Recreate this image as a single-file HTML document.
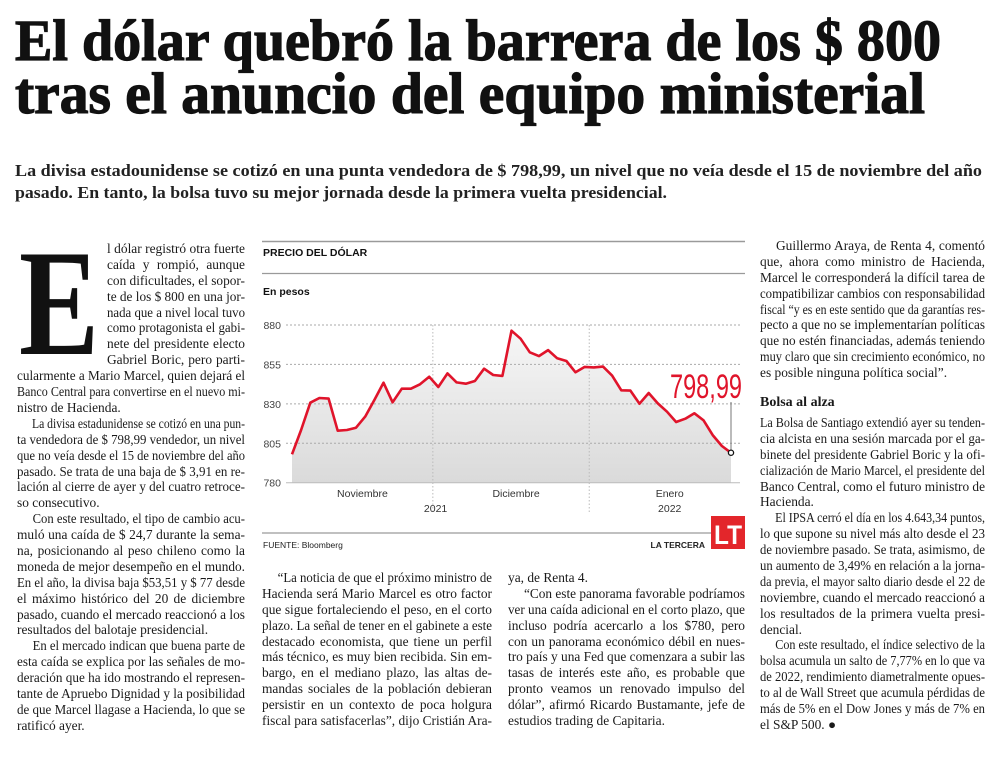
<!DOCTYPE html>
<html><head><meta charset="utf-8">
<style>
body{margin:0;background:#fff;width:1000px;height:757px;overflow:hidden;position:relative;font-family:"Liberation Serif",serif;color:#1a1a1a}
.col{position:absolute;font-size:13.4px;line-height:15.9px}
.ln{white-space:nowrap;text-align:justify;text-align-last:justify;height:15.9px}
.ln.l{text-align-last:left}
.ln.i{text-indent:8px}
.ln span{display:inline-block;transform-origin:left center}
</style></head><body>
<svg width="1000" height="210" style="position:absolute;left:0;top:0">
<text x="15" y="60" font-family="Liberation Serif" font-weight="bold" font-size="58" textLength="926" lengthAdjust="spacingAndGlyphs" fill="#111" stroke="#111" stroke-width="1.2">El dólar quebró la barrera de los $ 800</text>
<text x="15" y="113" font-family="Liberation Serif" font-weight="bold" font-size="58" textLength="910" lengthAdjust="spacingAndGlyphs" fill="#111" stroke="#111" stroke-width="1.2">tras el anuncio del equipo ministerial</text>
<text x="15" y="176" font-family="Liberation Serif" font-weight="bold" font-size="16.5" textLength="967" lengthAdjust="spacingAndGlyphs" fill="#222">La divisa estadounidense se cotizó en una punta vendedora de $ 798,99, un nivel que no veía desde el 15 de noviembre del año</text>
<text x="15" y="198" font-family="Liberation Serif" font-weight="bold" font-size="16.5" textLength="652" lengthAdjust="spacingAndGlyphs" fill="#222">pasado. En tanto, la bolsa tuvo su mejor jornada desde la primera vuelta presidencial.</text>
</svg>
<svg width="100" height="120" style="position:absolute;left:15px;top:245px">
<text x="4" y="109" font-family="Liberation Serif" font-weight="bold" font-size="152" textLength="80" lengthAdjust="spacingAndGlyphs" fill="#111">E</text>
</svg>

<div class="col" style="left:107px;top:241px;width:138px">
<div class="ln"><span>l dólar registró otra fuerte</span></div>
<div class="ln"><span>caída y rompió, aunque</span></div>
<div class="ln"><span>con dificultades, el sopor-</span></div>
<div class="ln"><span>te de los $ 800 en una jor-</span></div>
<div class="ln"><span>nada que a nivel local tuvo</span></div>
<div class="ln"><span>como protagonista el gabi-</span></div>
<div class="ln"><span>nete del presidente electo</span></div>
<div class="ln"><span>Gabriel Boric, pero parti-</span></div>
</div>
<div class="col" style="left:17px;top:368.2px;width:228px">
<div class="ln"><span>cularmente a Mario Marcel, quien dejará el</span></div>
<div class="ln"><span>Banco Central para convertirse en el nuevo mi-</span></div>
<div class="ln l"><span>nistro de Hacienda.</span></div>
<div class="ln i"><span>La divisa estadunidense se cotizó en una pun-</span></div>
<div class="ln"><span>ta vendedora de $ 798,99 vendedor, un nivel</span></div>
<div class="ln"><span>que no veía desde el 15 de noviembre del año</span></div>
<div class="ln"><span>pasado. Se trata de una baja de $ 3,91 en re-</span></div>
<div class="ln"><span>lación al cierre de ayer y del cuatro retroce-</span></div>
<div class="ln l"><span>so consecutivo.</span></div>
<div class="ln i"><span>Con este resultado, el tipo de cambio acu-</span></div>
<div class="ln"><span>muló una caída de $ 24,7 durante la sema-</span></div>
<div class="ln"><span>na, posicionando al peso chileno como la</span></div>
<div class="ln"><span>moneda de mejor desempeño en el mundo.</span></div>
<div class="ln"><span>En el año, la divisa baja $53,51 y $ 77 desde</span></div>
<div class="ln"><span>el máximo histórico del 20 de diciembre</span></div>
<div class="ln"><span>pasado, cuando el mercado reaccionó a los</span></div>
<div class="ln l"><span>resultados del balotaje presidencial.</span></div>
<div class="ln i"><span>En el mercado indican que buena parte de</span></div>
<div class="ln"><span>esta caída se explica por las señales de mo-</span></div>
<div class="ln"><span>deración que ha ido mostrando el represen-</span></div>
<div class="ln"><span>tante de Apruebo Dignidad y la posibilidad</span></div>
<div class="ln"><span>de que Marcel llagase a Hacienda, lo que se</span></div>
<div class="ln l"><span>ratificó ayer.</span></div>
</div>

<div class="col" style="left:262px;top:570px;width:230px;line-height:15.5px">
<div class="ln i"><span>“La noticia de que el próximo ministro de</span></div>
<div class="ln"><span>Hacienda será Mario Marcel es otro factor</span></div>
<div class="ln"><span>que sigue fortaleciendo el peso, en el corto</span></div>
<div class="ln"><span>plazo. La señal de tener en el gabinete a este</span></div>
<div class="ln"><span>destacado economista, que tiene un perfil</span></div>
<div class="ln"><span>más técnico, es muy bien recibida. Sin em-</span></div>
<div class="ln"><span>bargo, en el mediano plazo, las altas de-</span></div>
<div class="ln"><span>mandas sociales de la población debieran</span></div>
<div class="ln"><span>persistir en un contexto de poca holgura</span></div>
<div class="ln"><span>fiscal para satisfacerlas”, dijo Cristián Ara-</span></div>
</div>
<div class="col" style="left:508px;top:570px;width:237px;line-height:15.5px">
<div class="ln l"><span>ya, de Renta 4.</span></div>
<div class="ln i"><span>“Con este panorama favorable podríamos</span></div>
<div class="ln"><span>ver una caída adicional en el corto plazo, que</span></div>
<div class="ln"><span>incluso podría acercarlo a los $780, pero</span></div>
<div class="ln"><span>con un panorama económico débil en nues-</span></div>
<div class="ln"><span>tro país y una Fed que comenzara a subir las</span></div>
<div class="ln"><span>tasas de interés este año, es probable que</span></div>
<div class="ln"><span>pronto veamos un renovado impulso del</span></div>
<div class="ln"><span>dólar”, afirmó Ricardo Bustamante, jefe de</span></div>
<div class="ln l"><span>estudios trading de Capitaria.</span></div>
</div>

<div class="col" style="left:760px;top:238px;width:225px">
<div class="ln i"><span>Guillermo Araya, de Renta 4, comentó</span></div>
<div class="ln"><span>que, ahora como ministro de Hacienda,</span></div>
<div class="ln"><span>Marcel le corresponderá la difícil tarea de</span></div>
<div class="ln"><span>compatibilizar cambios con responsabilidad</span></div>
<div class="ln"><span>fiscal “y es en este sentido que da garantías res-</span></div>
<div class="ln"><span>pecto a que no se implementarían políticas</span></div>
<div class="ln"><span>que no estén financiadas, además teniendo</span></div>
<div class="ln"><span>muy claro que sin crecimiento económico, no</span></div>
<div class="ln l"><span>es posible ninguna política social”.</span></div>
</div>
<div style="position:absolute;left:760px;top:395px;font-size:14px;font-weight:bold">Bolsa al alza</div>
<div class="col" style="left:760px;top:415px;width:225px;line-height:16px">
<div class="ln"><span>La Bolsa de Santiago extendió ayer su tenden-</span></div>
<div class="ln"><span>cia alcista en una sesión marcada por el ga-</span></div>
<div class="ln"><span>binete del presidente Gabriel Boric y la ofi-</span></div>
<div class="ln"><span>cialización de Mario Marcel, el presidente del</span></div>
<div class="ln"><span>Banco Central, como el futuro ministro de</span></div>
<div class="ln l"><span>Hacienda.</span></div>
<div class="ln i"><span>El IPSA cerró el día en los 4.643,34 puntos,</span></div>
<div class="ln"><span>lo que supone su nivel más alto desde el 23</span></div>
<div class="ln"><span>de noviembre pasado. Se trata, asimismo, de</span></div>
<div class="ln"><span>un aumento de 3,49% en relación a la jorna-</span></div>
<div class="ln"><span>da previa, el mayor salto diario desde el 22 de</span></div>
<div class="ln"><span>noviembre, cuando el mercado reaccionó a</span></div>
<div class="ln"><span>los resultados de la primera vuelta presi-</span></div>
<div class="ln l"><span>dencial.</span></div>
<div class="ln i"><span>Con este resultado, el índice selectivo de la</span></div>
<div class="ln"><span>bolsa acumula un salto de 7,77% en lo que va</span></div>
<div class="ln"><span>de 2022, rendimiento diametralmente opues-</span></div>
<div class="ln"><span>to al de Wall Street que acumula pérdidas de</span></div>
<div class="ln"><span>más de 5% en el Dow Jones y más de 7% en</span></div>
<div class="ln l"><span>el S&amp;P 500. ●</span></div>
</div>

<svg id="chart" width="1000" height="757" style="position:absolute;left:0;top:0;pointer-events:none">
<defs><linearGradient id="fillg" x1="0" y1="0" x2="0" y2="1"><stop offset="0" stop-color="#f6f6f6"/><stop offset="1" stop-color="#dadada"/></linearGradient></defs>
</svg>

<script>
const values=[798.0,813.4,830.7,833.7,833.3,813.0,813.4,814.9,821.9,832.4,843.4,831.0,839.6,839.6,842.4,847.2,840.7,849.3,843.6,842.8,844.5,852.3,848.3,847.7,876.4,871.3,862.7,860.3,864.1,858.9,857.2,850.0,853.4,853.1,853.6,847.9,838.6,838.4,830.1,836.9,830.3,825.0,818.5,820.6,824.0,819.5,810.2,803.3,798.99];
const yTicks=[780,805,830,855,880];
const monthLabels=["Noviembre","Diciembre","Enero"];
const monthIdx=[7.7,24.5,41.3];
const yearLabels=["2021","2022"];
const yearIdx=[15.7,41.3];
const dividerIdx=[15.4,32.5];
const lastLabel="798,99";

const X0=292,X1=731,Y0=482.7,Y1=325;
const xs=i=>X0+(X1-X0)*i/(values.length-1);
const ys=v=>Y0+(Y1-Y0)*(v-780)/(880-780);
const svg=document.getElementById('chart');
const NS='http://www.w3.org/2000/svg';
function mk(tag,attrs,parent){const e=document.createElementNS(NS,tag);for(const k in attrs)e.setAttribute(k,attrs[k]);(parent||svg).appendChild(e);return e;}

let e;
e=mk('line',{x1:262,x2:745,y1:241.5,y2:241.5,stroke:'#9a9a9a','stroke-width':1.5});

e=mk('line',{x1:262,x2:745,y1:273.5,y2:273.5,stroke:'#9a9a9a','stroke-width':1.2});

e=mk('line',{x1:262,x2:712,y1:533,y2:533,stroke:'#9a9a9a','stroke-width':1.2});

e=mk('text',{x:263,y:256,'font-family':'Liberation Sans','font-weight':'bold','font-size':10.5,fill:'#111'});e.textContent='PRECIO DEL DÓLAR';

e=mk('text',{x:263,y:295,'font-family':'Liberation Sans','font-weight':'bold','font-size':10.5,fill:'#111'});e.textContent='En pesos';


let d='M'+xs(0)+','+Y0;
values.forEach((v,i)=>{d+=' L'+xs(i).toFixed(1)+','+ys(v).toFixed(1);});
d+=' L'+xs(values.length-1)+','+Y0+' Z';
e=mk('path',{d:d,fill:'url(#fillg)'});


yTicks.forEach(t=>{
  const g=mk('line',{x1:286,x2:740,y1:ys(t),y2:ys(t),stroke:t===780?'#bbb':'#aaa','stroke-width':1,'stroke-dasharray':t===780?'':'2,2'});
  
  const l=mk('text',{x:281,y:ys(t)+4,'text-anchor':'end','font-family':'Liberation Sans','font-size':10.5,fill:'#444'});
  l.textContent=t;
  
});
dividerIdx.forEach(i=>{
  const g=mk('line',{x1:xs(i),x2:xs(i),y1:Y1,y2:514,stroke:'#bbb','stroke-width':1,'stroke-dasharray':'1.5,2'});
  
});
monthLabels.forEach((m,k)=>{
  const l=mk('text',{x:xs(monthIdx[k]),y:497,'text-anchor':'middle','font-family':'Liberation Sans','font-size':10.5,fill:'#333'});
  l.textContent=m;
  
});
yearLabels.forEach((m,k)=>{
  const l=mk('text',{x:xs(yearIdx[k]),y:512,'text-anchor':'middle','font-family':'Liberation Sans','font-size':10.5,fill:'#333'});
  l.textContent=m;
  
});

const pts=values.map((v,i)=>xs(i).toFixed(1)+','+ys(v).toFixed(1)).join(' ');
e=mk('polyline',{points:pts,fill:'none',stroke:'#e0142b','stroke-width':2.6,'stroke-linejoin':'round'});


const li=values.length-1;
e=mk('line',{x1:xs(li),x2:xs(li),y1:402,y2:ys(values[li])-3,stroke:'#777','stroke-width':1});

e=mk('circle',{cx:xs(li),cy:ys(values[li]),r:2.6,fill:'#fff',stroke:'#111','stroke-width':1.3});

e=mk('text',{x:670,y:398,'font-family':'Liberation Sans','font-size':34,fill:'#e0142b',textLength:72,lengthAdjust:'spacingAndGlyphs'});
e.textContent=lastLabel;


e=mk('text',{x:263,y:548,'font-family':'Liberation Sans','font-size':8.5,fill:'#222'});e.textContent='FUENTE: Bloomberg';

e=mk('text',{x:705,y:548,'text-anchor':'end','font-family':'Liberation Sans','font-weight':'bold','font-size':8.5,fill:'#222'});e.textContent='LA TERCERA';

e=mk('rect',{x:711,y:516,width:34,height:33,fill:'#e3262b'});

e=mk('text',{x:728,y:544,'text-anchor':'middle','font-family':'Liberation Sans','font-weight':'bold','font-size':27,fill:'#fff',textLength:28,lengthAdjust:'spacingAndGlyphs'});e.textContent='LT';


document.querySelectorAll('.col').forEach(col=>{
  const W=col.clientWidth;
  col.querySelectorAll('.ln').forEach(ln=>{
    const s=ln.firstElementChild;
    const ind=ln.classList.contains('i')?8:0;
    const w=s.getBoundingClientRect().width;
    if(w>W-ind){s.style.transform='scaleX('+((W-ind)/w)+')';}
    else if(!ln.classList.contains('l')){
      const sp=(s.textContent.match(/ /g)||[]).length;
      if(sp>0) s.style.wordSpacing=((W-ind-w)/sp)+'px';
    }
  });
});
</script>
</body></html>
